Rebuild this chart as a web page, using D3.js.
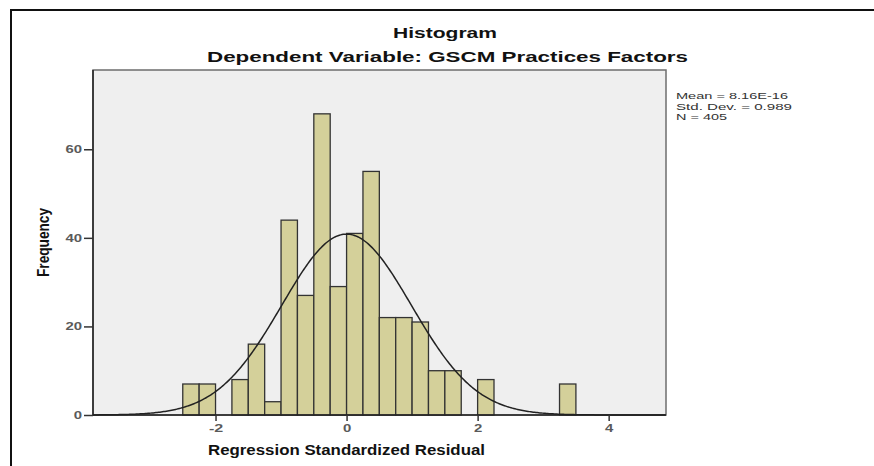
<!DOCTYPE html>
<html>
<head>
<meta charset="utf-8">
<script src="https://cdn.jsdelivr.net/npm/d3@7"></script>
<style>
  body { margin: 0; background: #fff; }
  svg { display: block; font-family: "Liberation Sans", Arial, sans-serif; }
</style>
</head>
<body>
<div id="chart"></div>
<script>
// bin edges (left edge of each bin) and counts, bin width 0.25
const binStarts = [-2.5, -2.25, -1.75, -1.5, -1.25, -1, -0.75, -0.5, -0.25, 0, 0.25, 0.5, 0.75, 1, 1.25, 1.5, 2, 3.25];
const counts    = [7, 7, 8, 16, 3, 44, 27, 68, 29, 41, 55, 22, 22, 21, 10, 10, 8, 7];
const binWidth = 0.25;

const xTicks = [-2, 0, 2, 4];
const yTicks = [0, 20, 40, 60];

const statsLines = ["Mean = 8.16E-16", "Std. Dev. = 0.989", "N = 405"];
const statsWidths = [112, 116, 51];
const mean = 8.16e-16, sd = 0.989, n = 405;

const W = 874, H = 466;
const margin = {top: 70, right: 208, bottom: 51, left: 93},
    width = W - margin.left - margin.right,
    height = H - margin.top - margin.bottom;

const svg = d3.select("#chart")
  .append("svg")
    .attr("width", W)
    .attr("height", H);

// outer frame (left and top edges only visible)
svg.append("path")
  .attr("d", `M11,${H} L11,10 L${W},10`)
  .attr("fill", "none")
  .attr("stroke", "#111")
  .attr("stroke-width", 2);

const g = svg.append("g")
  .attr("transform", `translate(${margin.left},${margin.top})`);

const x = d3.scaleLinear().domain([-3.87, 4.875]).range([0, width]);
const y = d3.scaleLinear().domain([0, 77.9]).range([height, 0]);

// plot background
g.append("rect")
  .attr("width", width)
  .attr("height", height)
  .attr("fill", "#efefef")
  .attr("stroke", "#6e6e6e")
  .attr("stroke-width", 1.5);

// bars
g.selectAll(".bar")
  .data(binStarts)
  .enter().append("rect")
    .attr("class", "bar")
    .attr("x", d => x(d))
    .attr("width", d => x(d + binWidth) - x(d))
    .attr("y", (d, i) => y(counts[i]))
    .attr("height", (d, i) => y(0) - y(counts[i]))
    .attr("fill", "#d4d09a")
    .attr("stroke", "#333")
    .attr("stroke-width", 1.3);

// normal curve from the reported mean / sd / N
const dens = xv => n * binWidth * Math.exp(-0.5 * Math.pow((xv - mean) / sd, 2)) / (sd * Math.sqrt(2 * Math.PI));
const curvePts = d3.range(x.domain()[0], x.domain()[1] + 0.001, 0.02);
g.append("path")
  .datum(curvePts)
  .attr("fill", "none")
  .attr("stroke", "#222")
  .attr("stroke-width", 1.5)
  .attr("d", d3.line().x(d => x(d)).y(d => y(dens(d))));

// axes
const xAxis = g.append("g")
  .attr("transform", `translate(0,${height})`)
  .call(d3.axisBottom(x).tickValues(xTicks).tickSize(6).tickPadding(3).tickFormat(d => String(d)));
const yAxis = g.append("g")
  .call(d3.axisLeft(y).tickValues(yTicks).tickSize(9).tickPadding(2).tickFormat(d => String(d)));

// the reference type is stretched wide, so fix each label's width
const labelWidth = s => s.replace("-", "").length * 8.3 + (s.startsWith("-") ? 6 : 0);

[xAxis, yAxis].forEach(a => {
  a.select(".domain").attr("stroke", "#222").attr("stroke-width", 1.5);
  a.selectAll(".tick line").attr("stroke", "#333").attr("stroke-width", 1.5);
  a.selectAll(".tick text")
    .attr("fill", "#5a5a5a")
    .attr("textLength", d => labelWidth(String(d)))
    .attr("lengthAdjust", "spacingAndGlyphs")
    .style("font-size", "11px")
    .style("font-weight", "bold")
    .style("font-family", "'Liberation Sans', Arial, sans-serif");
});
xAxis.select(".domain").attr("d", `M0,0H${width}`);
yAxis.select(".domain").attr("d", `M0,${height}V0`);

// titles
svg.append("text")
  .attr("x", 393).attr("y", 38)
  .attr("textLength", 104).attr("lengthAdjust", "spacingAndGlyphs")
  .style("font-size", "15.5px").style("font-weight", "bold").attr("fill", "#111")
  .text("Histogram");

svg.append("text")
  .attr("x", 207).attr("y", 62)
  .attr("textLength", 481).attr("lengthAdjust", "spacingAndGlyphs")
  .style("font-size", "15px").style("font-weight", "bold").attr("fill", "#111")
  .text("Dependent Variable: GSCM Practices Factors");

svg.append("text")
  .attr("x", 208).attr("y", 455)
  .attr("textLength", 277).attr("lengthAdjust", "spacingAndGlyphs")
  .style("font-size", "14px").style("font-weight", "bold").attr("fill", "#111")
  .text("Regression Standardized Residual");

svg.append("text")
  .attr("transform", "translate(49,277) rotate(-90)")
  .attr("textLength", 69).attr("lengthAdjust", "spacingAndGlyphs")
  .style("font-size", "16px").style("font-weight", "bold").attr("fill", "#111")
  .text("Frequency");

// stats box
svg.append("g")
  .selectAll("text")
  .data(statsLines)
  .enter().append("text")
    .attr("x", 676)
    .attr("y", (d, i) => 99 + i * 10.5)
    .attr("textLength", (d, i) => statsWidths[i])
    .attr("lengthAdjust", "spacingAndGlyphs")
    .style("font-size", "9.5px")
    .attr("fill", "#333")
    .text(d => d);
</script>
</body>
</html>
